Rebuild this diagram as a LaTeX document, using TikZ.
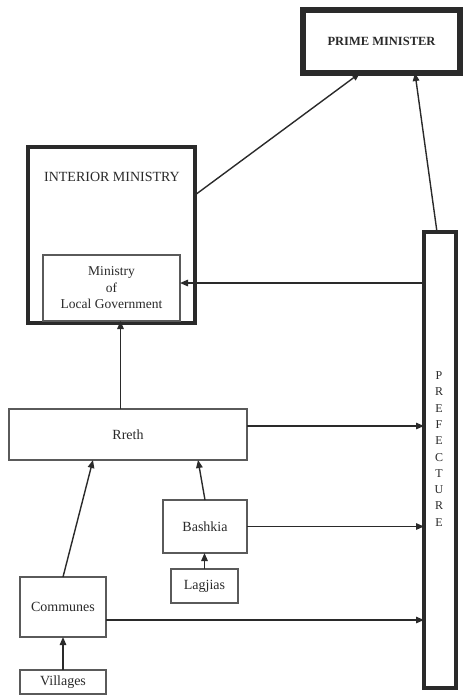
\documentclass[tikz,border=0pt]{standalone}
\usepackage{fontspec}
\setmainfont{Liberation Serif}
\usetikzlibrary{arrows.meta}
\definecolor{ink}{HTML}{2A2A2A}
\definecolor{edge}{HTML}{5A5A5A}
\begin{document}
\begin{tikzpicture}[x=1pt,y=-1pt,
  every node/.style={inner sep=0pt,outer sep=0pt,text=ink},
  unit/.style={draw=edge,line width=1.3pt,fill=white,font=\fontsize{14}{16}\selectfont},
  heavy/.style={draw=ink,fill=white},
  arr/.style={draw=ink,line width=1.4pt,-{Triangle[length=8pt,width=6.5pt]}}]
\useasboundingbox (0,0) rectangle (464,697);

% top of the hierarchy
\node[heavy,line width=5.5pt,minimum width=157pt,minimum height=63pt,
      font=\bfseries\fontsize{12.5}{14}\selectfont] (pm) at (381.5,41.5) {PRIME MINISTER};

\node[heavy,line width=4pt,minimum width=167pt,minimum height=176pt] (int) at (111.5,235) {};
\node[font=\fontsize{14}{16}\selectfont] (intlabel) at (112,177) {INTERIOR MINISTRY};
\node[unit,minimum width=137pt,minimum height=66pt,align=center,
      font=\fontsize{13.5}{16.5}\selectfont] (molg) at (111.5,288) {Ministry\\of\\Local Government};

% prefecture column
\node[heavy,line width=3.5pt,minimum width=32pt,minimum height=456pt] (pref) at (440,460) {};
\node[align=center,font=\fontsize{12}{16.3}\selectfont] (preflabel) at (439,449)
  {P\\R\\E\\F\\E\\C\\T\\U\\R\\E};

% local units
\node[unit,minimum width=238pt,minimum height=51pt] (rreth) at (128,434.5) {Rreth};
\node[unit,minimum width=84pt,minimum height=53pt] (bashkia) at (205,526.5) {Bashkia};
\node[unit,minimum width=67pt,minimum height=34pt] (lagjias) at (204.5,586) {Lagjias};
\node[unit,minimum width=86pt,minimum height=60pt] (communes) at (63,607) {Communes};
\node[unit,minimum width=86pt,minimum height=24pt] (villages) at (63,682) {Villages};

% reporting lines upward
\draw[arr] ([yshift=40pt]int.east) -- ([xshift=-21.5pt]pm.south);
\draw[arr] ([xshift=-3pt]pref.north) -- ([xshift=33.5pt]pm.south);
\coordinate (pm1) at ([yshift=5pt]molg.east);
\draw[arr] (pm1 -| pref.west) -- (pm1);
\draw[arr] ([xshift=-7.5pt]rreth.north) -- ([xshift=9pt]molg.south);
\draw[arr] (communes.north) -- ([xshift=-35pt]rreth.south);
\draw[arr] (bashkia.north) -- ([xshift=70pt]rreth.south);
\draw[arr] (lagjias.north) -- (lagjias.north |- bashkia.south);
\draw[arr] (villages.north) -- (communes.south);

% lines to the prefecture
\coordinate (r1) at ([yshift=8.5pt]rreth.east);
\draw[arr] (r1) -- (r1 -| pref.west);
\draw[arr] (bashkia.east) -- (bashkia.east -| pref.west);
\coordinate (c1) at ([yshift=-13pt]communes.east);
\draw[arr] (c1) -- (c1 -| pref.west);
\end{tikzpicture}
\end{document}
